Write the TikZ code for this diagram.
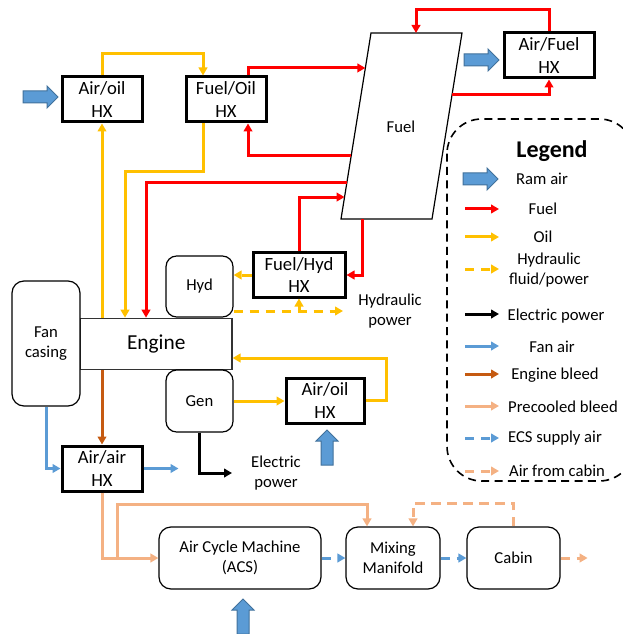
\documentclass[tikz,border=0pt]{standalone}
\usepackage{fontspec}
\setmainfont{Carlito}
\usetikzlibrary{arrows.meta,calc}

\definecolor{fuelred}{HTML}{FF0000}
\definecolor{oilyel}{HTML}{FFC000}
\definecolor{ramblue}{HTML}{5B9BD5}
\definecolor{ramedge}{HTML}{41719C}
\definecolor{fanblue}{HTML}{5B9BD5}
\definecolor{bleedbrown}{HTML}{C55A11}
\definecolor{precool}{HTML}{F4B183}

\newcommand\pxu{0.75pt}

\tikzset{
  tip/.style={-{Triangle[length=6pt,width=6.5pt]}},
  flow/.style={line width=2.25pt,tip},
  fuelln/.style={flow,draw=fuelred,fuelred},
  oilln/.style={flow,draw=oilyel,oilyel},
  hydln/.style={flow,draw=oilyel,oilyel,dash pattern=on 7pt off 5pt},
  elecln/.style={flow,draw=black},
  fanln/.style={flow,draw=fanblue,fanblue},
  bleedln/.style={flow,draw=bleedbrown,bleedbrown},
  precoolln/.style={flow,draw=precool,precool},
  ecsln/.style={flow,draw=fanblue,fanblue,dash pattern=on 7pt off 5pt},
  cabinln/.style={flow,draw=precool,precool,dash pattern=on 7pt off 5pt},
  hx/.style={draw=black,line width=2.25pt,fill=white,inner sep=0pt,align=center,
    font=\fontsize{14}{17}\selectfont},
  unit/.style={draw=black,line width=0.9pt,fill=white,rounded corners=8pt,inner sep=0pt,
    align=center,font=\fontsize{12.5}{15}\selectfont},
  lbl/.style={align=center,inner sep=0pt,font=\fontsize{12.5}{15}\selectfont},
  ramair/.pic={\filldraw[fill=ramblue,draw=ramedge,line width=0.75pt]
    (0,-6)--(24,-6)--(24,-11)--(35,0)--(24,11)--(24,6)--(0,6)--cycle;}
}

\begin{document}
\begin{tikzpicture}[x=0.75pt,y=-0.75pt]
\useasboundingbox (0,0) rectangle (622,634);

% ---------- fuel tank (parallelogram) ----------
\coordinate (fTL) at (371,33);
\coordinate (fTR) at (462,33);
\coordinate (fBR) at (432,219);
\coordinate (fBL) at (341,219);
\draw[line width=0.9pt,fill=white] (fTL) -- (fTR) -- (fBR) -- (fBL) -- cycle;
\node[lbl] (fuellbl) at (401,127) {Fuel};
\coordinate (fL68)  at ($(fTL)!0.188!(fBL)$);
\coordinate (fL156) at ($(fTL)!0.661!(fBL)$);
\coordinate (fL183) at ($(fTL)!0.806!(fBL)$);
\coordinate (fL197) at ($(fTL)!0.882!(fBL)$);
\coordinate (fR95)  at ($(fTR)!0.333!(fBR)$);
\coordinate (fT416) at (416,33);
\coordinate (fB362) at (362,219);

% ---------- heat exchangers ----------
\node[hx,minimum width=80*\pxu,minimum height=45*\pxu] (airoilA) at (102,99.5) {Air/oil\\HX};
\node[hx,minimum width=80*\pxu,minimum height=45*\pxu] (fueloil) at (226,99.5) {Fuel/Oil\\HX};
\node[hx,minimum width=90*\pxu,minimum height=45*\pxu] (airfuel) at (549,55.5) {Air/Fuel\\HX};
\node[hx,minimum width=92*\pxu,minimum height=44*\pxu] (fuelhyd) at (299,275) {Fuel/Hyd\\HX};
\node[hx,minimum width=78*\pxu,minimum height=45*\pxu] (airoilB) at (325,400.5) {Air/oil\\HX};
\node[hx,minimum width=80*\pxu,minimum height=45*\pxu] (airair) at (102,468.5) {Air/air\\HX};

% ---------- engine and accessories ----------
\node[draw=black!80,line width=0.9pt,fill=white,inner sep=0pt,minimum width=151.5*\pxu,
  minimum height=51*\pxu,font=\fontsize{16}{19}\selectfont] (engine) at (156.25,343.75) {Engine};
\node[unit,rounded corners=9pt,minimum width=68*\pxu,minimum height=125*\pxu] (fan) at (46,343.5) {Fan\\casing};
\node[unit,minimum width=67*\pxu,minimum height=61*\pxu] (hyd) at (199.5,286.5) {Hyd};
\node[unit,minimum width=67*\pxu,minimum height=62*\pxu] (gen) at (199.5,401) {Gen};

% ---------- cabin air system ----------
\node[unit,rounded corners=9pt,minimum width=162*\pxu,minimum height=62*\pxu] (acs) at (240,558) {Air Cycle Machine\\(ACS)};
\node[unit,rounded corners=9pt,minimum width=94*\pxu,minimum height=62*\pxu] (mix) at (393,558) {Mixing\\Manifold};
\node[unit,rounded corners=9pt,minimum width=93*\pxu,minimum height=62*\pxu] (cabin) at (513.5,558) {Cabin};

% ---------- free labels ----------
\node[lbl] (hydpow) at (390,311) {Hydraulic\\power};
\node[lbl] (elecpow) at (276,473) {Electric\\power};

% ---------- oil loops ----------
\draw[oilln] (airoilA.south |- engine.north) -- (airoilA.south);
\draw[oilln] (airoilA.north) -- ++(0,-22) -| ($(fueloil.north)+(-23,0)$);
\coordinate (o1) at (125,172);
\draw[oilln] ($(fueloil.south)+(-23,0)$) |- (o1) -- (o1 |- engine.north);
\draw[oilln] (gen.east) -- (gen.east -| airoilB.west);
\coordinate (o4) at (386,358);
\draw[oilln] (airoilB.east) -| (o4) -- (engine.east |- o4);

% ---------- fuel loops ----------
\draw[fuelln] ($(fueloil.north)+(22,0)$) |- (fL68);
\draw[fuelln] (fL156) -| ($(fueloil.south)+(22,0)$);
\coordinate (r1) at (146,183);
\draw[fuelln] (fL183) -- (r1 |- fL183) -- (r1 |- engine.north);
\draw[fuelln] (fuelhyd.north) |- (fL197);
\draw[fuelln] (fB362) |- (fuelhyd.east);
\draw[fuelln] (fR95) -| (airfuel.south);
\draw[fuelln] (airfuel.north) -- ++(0,-22) -| (fT416);

% ---------- hydraulics ----------
\draw[hydln] (fuelhyd.west) -- (fuelhyd.west -| hyd.east);
\coordinate (h311) at (343,311);
\draw[hydln] (hyd.east |- h311) -- (h311);
\draw[flow,draw=oilyel,oilyel] (fuelhyd.south |- h311) -- (fuelhyd.south);

% ---------- electric power ----------
\coordinate (e473) at (232,473);
\draw[elecln] (gen.south) |- (e473);

% ---------- bleed and fan air ----------
\draw[bleedln] (airair.north |- engine.south) -- (airair.north);
\draw[fanln] (fan.south) |- (airair.west);
\draw[fanln] (airair.east) -- ++(35,0);
\draw[precoolln] (airair.south) |- (acs.west);
\coordinate (b1) at (117,558);
\draw[precoolln] (b1) |- ($(mix.north)+(-26,-22)$) -- ($(mix.north)+(-26,0)$);

% ---------- cabin air ----------
\draw[ecsln] (acs.east) -- (mix.west);
\draw[ecsln] (mix.east) -- (cabin.west);
\draw[cabinln] (cabin.north) |- ($(mix.north)+(20,-23)$) -- ($(mix.north)+(20,0)$);
\draw[cabinln] (cabin.east) -- ++(27,0);

% ---------- ram air inlets ----------
\pic at (23,97) {ramair};
\pic at (464,60) {ramair};
\pic[rotate=90] at (327,465) {ramair};
\pic[rotate=90] at (243,634) {ramair};

% ---------- legend ----------
\draw[line width=1.2pt,dash pattern=on 6pt off 4pt,rounded corners=26pt] (447,119) rectangle (634,481);
\node[lbl,font=\fontsize{18}{21}\bfseries] (legtitle) at (552,151) {Legend};
\pic at (463,179) {ramair};
\node[lbl] (l1) at (542,179) {Ram air};
\coordinate (ls2) at (465,209); \coordinate (le2) at (499,209);
\draw[fuelln] (ls2) -- (le2);
\node[lbl] (l2) at (543,209) {Fuel};
\coordinate (ls3) at (465,237); \coordinate (le3) at (499,237);
\draw[oilln] (ls3) -- (le3);
\node[lbl] (l3) at (543,237) {Oil};
\coordinate (ls4) at (465,269); \coordinate (le4) at (499,269);
\draw[hydln] (ls4) -- (le4);
\node[lbl] (l4) at (549,270) {Hydraulic\\fluid/power};
\coordinate (ls5) at (465,314); \coordinate (le5) at (499,314);
\draw[elecln] (ls5) -- (le5);
\node[lbl] (l5) at (556,316) {Electric power};
\coordinate (ls6) at (465,346); \coordinate (le6) at (499,346);
\draw[fanln] (ls6) -- (le6);
\node[lbl] (l6) at (552,347) {Fan air};
\coordinate (ls7) at (465,374); \coordinate (le7) at (499,374);
\draw[bleedln] (ls7) -- (le7);
\node[lbl] (l7) at (555,375) {Engine bleed};
\coordinate (ls8) at (465,406); \coordinate (le8) at (499,406);
\draw[precoolln] (ls8) -- (le8);
\node[lbl] (l8) at (563,407) {Precooled bleed};
\coordinate (ls9) at (465,438); \coordinate (le9) at (499,438);
\draw[ecsln] (ls9) -- (le9);
\node[lbl] (l9) at (555,438) {ECS supply air};
\coordinate (ls10) at (465,471); \coordinate (le10) at (499,471);
\draw[cabinln] (ls10) -- (le10);
\node[lbl] (l10) at (557,471) {Air from cabin};
\end{tikzpicture}
\end{document}
